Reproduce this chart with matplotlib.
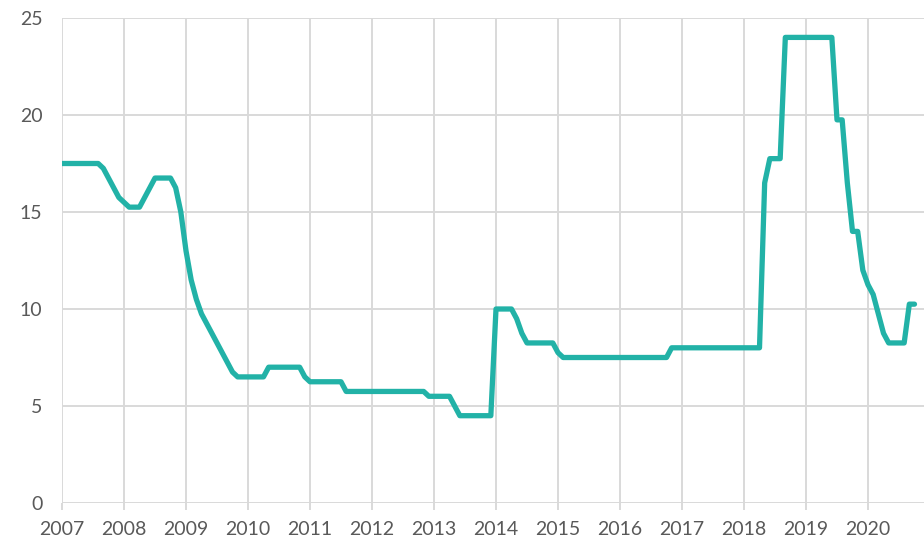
import numpy as np
import matplotlib.pyplot as plt

# monthly policy rate, Jan 2007 .. Oct 2020
r2007 = [17.5, 17.5, 17.5, 17.5, 17.5, 17.5, 17.5, 17.5, 17.25, 16.75, 16.25, 15.75]
r2008 = [15.5, 15.25, 15.25, 15.25, 15.75, 16.25, 16.75, 16.75, 16.75, 16.75, 16.25, 15.0]
r2009 = [13.0, 11.5, 10.5, 9.75, 9.25, 8.75, 8.25, 7.75, 7.25, 6.75, 6.5, 6.5]
r2010 = [6.5, 6.5, 6.5, 6.5, 7.0, 7.0, 7.0, 7.0, 7.0, 7.0, 7.0, 6.5]
r2011 = [6.25, 6.25, 6.25, 6.25, 6.25, 6.25, 6.25, 5.75, 5.75, 5.75, 5.75, 5.75]
r2012 = [5.75, 5.75, 5.75, 5.75, 5.75, 5.75, 5.75, 5.75, 5.75, 5.75, 5.75, 5.5]
r2013 = [5.5, 5.5, 5.5, 5.5, 5.0, 4.5, 4.5, 4.5, 4.5, 4.5, 4.5, 4.5]
r2014 = [10.0, 10.0, 10.0, 10.0, 9.5, 8.75, 8.25, 8.25, 8.25, 8.25, 8.25, 8.25]
r2015 = [7.75, 7.5, 7.5, 7.5, 7.5, 7.5, 7.5, 7.5, 7.5, 7.5, 7.5, 7.5]
r2016 = [7.5, 7.5, 7.5, 7.5, 7.5, 7.5, 7.5, 7.5, 7.5, 7.5, 8.0, 8.0]
r2017 = [8.0, 8.0, 8.0, 8.0, 8.0, 8.0, 8.0, 8.0, 8.0, 8.0, 8.0, 8.0]
r2018 = [8.0, 8.0, 8.0, 8.0, 16.5, 17.75, 17.75, 17.75, 24.0, 24.0, 24.0, 24.0]
r2019 = [24.0, 24.0, 24.0, 24.0, 24.0, 24.0, 19.75, 19.75, 16.5, 14.0, 14.0, 12.0]
r2020 = [11.25, 10.75, 9.75, 8.75, 8.25, 8.25, 8.25, 8.25, 10.25, 10.25]

years = list(range(2007, 2021))
yticks = [0, 5, 10, 15, 20, 25]

rates = np.array(r2007 + r2008 + r2009 + r2010 + r2011 + r2012 + r2013
                 + r2014 + r2015 + r2016 + r2017 + r2018 + r2019 + r2020)
x = years[0] + np.arange(len(rates)) / 12.0

plt.rcParams['font.family'] = ['Lato', 'DejaVu Sans']

fig = plt.figure(figsize=(9.24, 5.47), dpi=100)
ax = fig.add_axes([62 / 924, 1 - 503 / 547, 1 - 62 / 924, 485 / 547])

ax.plot(x, rates, color='#22b2a7', linewidth=3.8, solid_joinstyle='round',
        solid_capstyle='round', zorder=3)

ax.set_xlim(2007, 2007 + (924 - 62) / 62)
ax.set_ylim(0, 25)
ax.set_xticks(years)
ax.set_xticklabels([str(y) for y in years])
ax.set_yticks(yticks)

ax.grid(True, color='#d9d9d9', linewidth=1.4)
ax.set_axisbelow(True)
for s in ax.spines.values():
    s.set_visible(False)

ax.tick_params(axis='x', length=5, width=1.4, color='#d9d9d9', pad=8,
               labelsize=14, labelcolor='#595959')
ax.tick_params(axis='y', length=0, pad=14, labelsize=14, labelcolor='#595959')
for lbl in ax.get_xticklabels() + ax.get_yticklabels():
    lbl.set_clip_on(False)

fig.savefig('out.png', dpi=100)
